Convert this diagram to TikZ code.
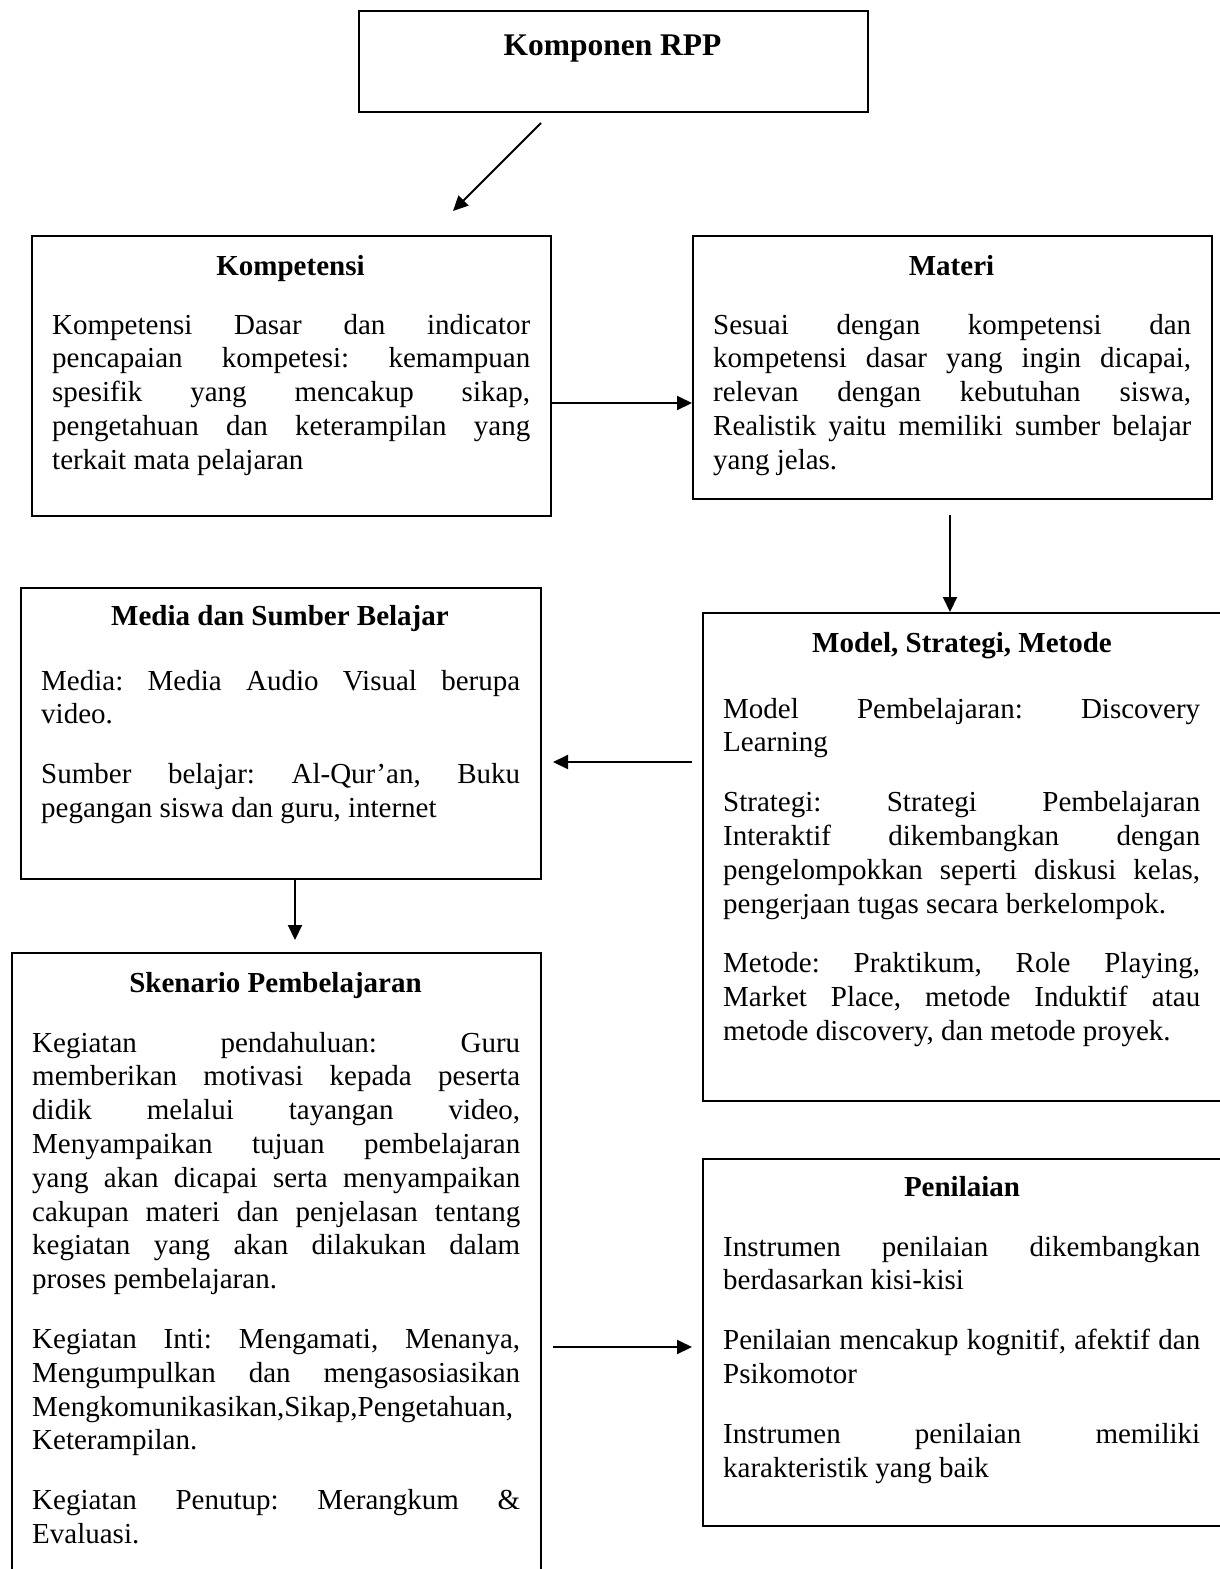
\documentclass[tikz,border=0pt]{standalone}
\usepackage{fontspec}
\setmainfont{Liberation Serif}
\usetikzlibrary{arrows.meta}
\newcommand\jline[1]{\par\noindent\hbox to\hsize{#1}}
\newcommand\lline[1]{\par\noindent\hbox to\hsize{#1\hfil}}
\newcommand\pgap{\par\vspace{26pt}}
\newcommand\bodytext[2]{\vtop{\hsize=#1\parindent=0pt\parskip=0pt\frenchspacing#2\par}}
\begin{document}
\begin{tikzpicture}[x=1pt,y=-1pt,
  box/.style={draw, line width=2pt, inner sep=0pt, anchor=north west},
  ttl/.style={anchor=base, inner sep=0pt, font=\fontsize{29}{34}\selectfont\bfseries},
  body/.style={anchor=base west, inner sep=0pt, font=\fontsize{29}{33.8}\selectfont},
  arr/.style={line width=2pt, -{Triangle[length=15pt,width=14pt]}}]
\useasboundingbox (0,0) rectangle (1219,1569);
% boxes
\node[box, minimum width=509pt, minimum height=101pt] (rpp) at (358,10) {};
\node[box, minimum width=519pt, minimum height=280pt] (kbox) at (31,235) {};
\node[box, minimum width=519pt, minimum height=263pt] (mbox) at (692,235) {};
\node[box, minimum width=520pt, minimum height=291pt] (medbox) at (20,587) {};
\node[box, minimum width=520pt, minimum height=488pt] (modbox) at (702,612) {};
\node[box, minimum width=529pt, minimum height=660pt] (skbox) at (11,952) {};
\node[box, minimum width=520pt, minimum height=367pt] (penbox) at (702,1158) {};
% titles
\node[ttl, font=\fontsize{31.5}{36}\selectfont\bfseries] (trpp) at (612.5,55) {Komponen RPP};
\node[ttl] (tk) at (290.5,275) {Kompetensi};
\node[ttl] (tm) at (951.5,275) {Materi};
\node[ttl] (tmed) at (280,625) {Media dan Sumber Belajar};
\node[ttl] (tmod) at (962,652) {Model, Strategi, Metode};
\node[ttl] (tsk) at (275.5,992) {Skenario Pembelajaran};
\node[ttl] (tpen) at (962,1196) {Penilaian};
% bodies
\node[body] (bk) at (52,334) {\bodytext{478pt}{%
\jline{Kompetensi Dasar dan indicator}%
\jline{pencapaian kompetesi: kemampuan}%
\jline{spesifik yang mencakup sikap,}%
\jline{pengetahuan dan keterampilan yang}%
\lline{terkait mata pelajaran}}};
\node[body] (bm) at (713,334) {\bodytext{478pt}{%
\jline{Sesuai dengan kompetensi dan}%
\jline{kompetensi dasar yang ingin dicapai,}%
\jline{relevan dengan kebutuhan siswa,}%
\jline{Realistik yaitu memiliki sumber belajar}%
\lline{yang jelas.}}};
\node[body] (bmed) at (41,690) {\bodytext{479pt}{%
\jline{Media: Media Audio Visual berupa}%
\lline{video.}\pgap
\jline{Sumber belajar: Al-Qur’an, Buku}%
\lline{pegangan siswa dan guru, internet}}};
\node[body] (bmod) at (723,718) {\bodytext{477pt}{%
\jline{Model Pembelajaran: Discovery}%
\lline{Learning}\pgap
\jline{Strategi: Strategi Pembelajaran}%
\jline{Interaktif dikembangkan dengan}%
\jline{pengelompokkan seperti diskusi kelas,}%
\lline{pengerjaan tugas secara berkelompok.}\pgap
\jline{Metode: Praktikum, Role Playing,}%
\jline{Market Place, metode Induktif atau}%
\lline{metode discovery, dan metode proyek.}}};
\node[body] (bsk) at (32,1052) {\bodytext{488pt}{%
\jline{Kegiatan pendahuluan: Guru}%
\jline{memberikan motivasi kepada peserta}%
\jline{didik melalui tayangan video,}%
\jline{Menyampaikan tujuan pembelajaran}%
\jline{yang akan dicapai serta menyampaikan}%
\jline{cakupan materi dan penjelasan tentang}%
\jline{kegiatan yang akan dilakukan dalam}%
\lline{proses pembelajaran.}\pgap
\jline{Kegiatan Inti: Mengamati, Menanya,}%
\jline{Mengumpulkan dan mengasosiasikan}%
\lline{Mengkomunikasikan,Sikap,Pengetahuan,}%
\lline{Keterampilan.}\pgap
\jline{Kegiatan Penutup: Merangkum \&}%
\lline{Evaluasi.}}};
\node[body] (bpen) at (723,1256) {\bodytext{477pt}{%
\jline{Instrumen penilaian dikembangkan}%
\lline{berdasarkan kisi-kisi}\pgap
\jline{Penilaian mencakup kognitif, afektif dan}%
\lline{Psikomotor}\pgap
\jline{Instrumen penilaian memiliki}%
\lline{karakteristik yang baik}}};
% connector helpers
\coordinate (d1s) at (541,123);
\coordinate (d1e) at (453,211);
\coordinate (y403) at (0,403);
\coordinate (x950) at (950,0);
\coordinate (y762) at (0,762);
\coordinate (x295) at (295,0);
\coordinate (y1347) at (0,1347);
% connectors
\draw[arr] (d1s) -- (d1e);
\draw[arr] (kbox.east |- y403) -- (mbox.west |- y403);
\draw[arr, shorten <=15pt] (mbox.south -| x950) -- (modbox.north -| x950);
\draw[arr, shorten <=10pt, shorten >=11pt] (modbox.west |- y762) -- (medbox.east |- y762);
\draw[arr, shorten >=12pt] (medbox.south -| x295) -- (skbox.north -| x295);
\draw[arr, shorten <=11pt, shorten >=10pt] (skbox.east |- y1347) -- (penbox.west |- y1347);
\end{tikzpicture}
\end{document}
